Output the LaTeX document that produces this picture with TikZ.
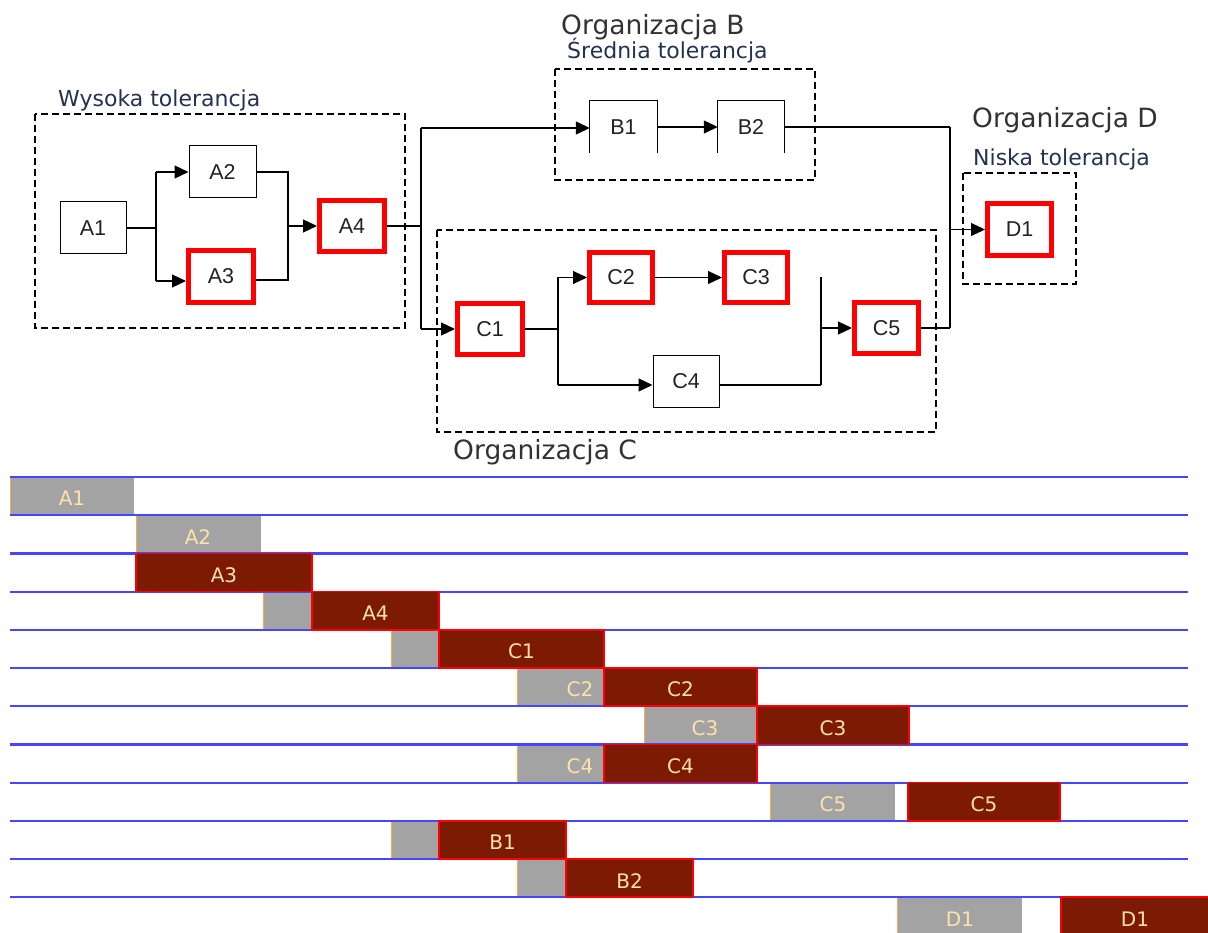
\documentclass[tikz,border=0pt]{standalone}
\usepackage{fontspec}
\setmainfont{Liberation Sans}
\newfontfamily\djv{DejaVu Sans}
\usetikzlibrary{arrows.meta}
\definecolor{ganttgray}{RGB}{163,163,163}
\definecolor{ganttred}{RGB}{125,26,4}
\definecolor{ganttline}{RGB}{70,70,255}
\definecolor{glabc}{RGB}{255,226,170}
\definecolor{tolc}{RGB}{35,50,80}
\definecolor{orgc}{RGB}{50,50,50}
\definecolor{edgeor}{RGB}{255,170,70}
\definecolor{taskc}{RGB}{34,34,34}
\tikzset{
  task/.style={draw=black, line width=1pt, minimum width=66pt, minimum height=52pt, inner sep=0pt, text=taskc, font=\fontsize{21.5}{21.5}\selectfont},
  crit/.style={task, draw=red, line width=5pt},
  openbox/.style={minimum width=66pt, minimum height=52pt, inner sep=0pt, text=taskc, font=\fontsize{21.5}{21.5}\selectfont},
  grp/.style={draw=black, line width=1.2pt, dash pattern=on 7pt off 4pt},
  conn/.style={draw=black, line width=1.2pt},
  arr/.style={conn, -{Triangle[length=14pt,width=13pt]}},
  tol/.style={font=\djv\fontsize{22}{22}\selectfont, text=tolc, inner sep=0pt, anchor=base west},
  org/.style={font=\djv\fontsize{26.5}{26.5}\selectfont, text=orgc, inner sep=0pt, anchor=base west},
  glab/.style={font=\djv\fontsize{20}{20}\selectfont, text=glabc, inner sep=0pt},
  blueline/.style={draw=ganttline, line width=2.2pt},
  redbar/.style={fill=ganttred, draw=red, line width=1.5pt},
}
\newcommand\ganttgray[5]{%
  \fill[ganttgray] (#2,{477+38.2*#1}) rectangle (#3,{515.2+38.2*#1});
  \draw[edgeor, line width=1pt] (#2,{477+38.2*#1}) -- (#2,{515.2+38.2*#1});
  \node[glab] (gg#1) at (#5,{498.6+38.2*#1}) {#4};
}
\newcommand\ganttred[4]{%
  \draw[redbar] (#2,{477+38.2*#1}) rectangle (#3,{515.2+38.2*#1});
  \node[glab] (gr#1) at ({(#2+#3)/2},{498.6+38.2*#1}) {#4};
}
\begin{document}
\begin{tikzpicture}[x=1pt,y=-1pt]
\useasboundingbox (0,0) rectangle (1208,933);

% ---------- group boxes ----------
\draw[grp] (35,114) rectangle (405,328);
\draw[grp] (555,69) rectangle (815,180);
\draw[grp] (437,230) rectangle (936,432);
\draw[grp] (963,173) rectangle (1076,284);

% ---------- labels ----------
\node[tol] (tolA) at (58,107) {Wysoka tolerancja};
\node[org] (orgB) at (561,35) {Organizacja B};
\node[tol] (tolB) at (567,59) {Średnia tolerancja};
\node[org] (orgD) at (972,128) {Organizacja D};
\node[tol] (tolD) at (973,166) {Niska tolerancja};
\node[org] (orgC) at (453,459) {Organizacja C};

% ---------- tasks ----------
\node[task] (A1) at (93,228) {A1};
\node[task, minimum width=67pt] (A2) at (222.5,172) {A2};
\node[crit, minimum width=65pt, minimum height=52pt] (A3) at (221,276.5) {A3};
\node[crit, minimum width=65pt, minimum height=51pt] (A4) at (352,226) {A4};

\node[openbox, minimum width=67pt] (B1) at (623.5,127) {B1};
\node[openbox] (B2) at (751,127) {B2};
\draw[conn] (B1.south west) -- (B1.north west) -- (B1.north east) -- (B1.south east);
\draw[conn] (B2.south west) -- (B2.north west) -- (B2.north east) -- (B2.south east);

\node[crit, minimum width=65pt, minimum height=51pt] (C1) at (490,329) {C1};
\node[crit, minimum width=63pt, minimum height=50pt] (C2) at (621,277.5) {C2};
\node[crit, minimum width=63pt, minimum height=50pt] (C3) at (756,277.5) {C3};
\node[task, minimum width=66pt, minimum height=51pt] (C4) at (686,381.5) {C4};
\node[crit, minimum width=64pt, minimum height=51pt] (C5) at (886.5,328) {C5};
\node[crit, minimum width=64pt, minimum height=52pt] (D1) at (1019.5,229.5) {D1};

% ---------- connectors A ----------
\coordinate (jA1) at (156,228);
\coordinate (jA1t) at (156,172);
\coordinate (jA1b) at (156,281);
\draw[conn] (A1.east) -- (jA1);
\draw[conn] (jA1t) -- (jA1b);
\draw[arr] (jA1t) -- (A2.west);
\draw[arr] (jA1b) -- (jA1b -| A3.west);

\coordinate (jA2t) at (288,172);
\coordinate (jA2b) at (288,280);
\coordinate (jA2m) at (288,226);
\draw[conn] (A2.east) -- (jA2t) -- (jA2b) -- (jA2b -| A3.east);
\draw[arr] (jA2m) -- (A4.west);

% ---------- fork after A4 ----------
\coordinate (fork) at (421,226);
\coordinate (forkt) at (421,128);
\coordinate (forkb) at (421,329);
\draw[conn] (A4.east) -- (fork);
\draw[conn] (forkt) -- (forkb);
\draw[arr] (forkt) -- (forkt -| B1.west);
\draw[arr] (forkb) -- (C1.west);

% ---------- B chain ----------
\draw[arr] (B1.east) -- (B2.west);
\coordinate (jDt) at (950,127);
\draw[conn] (B2.east) -- (jDt);

% ---------- C ----------
\coordinate (jC1) at (558,329);
\coordinate (jC1t) at (558,277.5);
\coordinate (jC1b) at (558,385);
\draw[conn] (C1.east) -- (jC1);
\draw[conn] (jC1t) -- (jC1b);
\draw[arr] (jC1t) -- (C2.west);
\draw[arr] (jC1b) -- (jC1b -| C4.west);
\draw[arr] (C2.east) -- (C3.west);

\coordinate (jC5t) at (821,277);
\coordinate (jC5b) at (821,385);
\draw[conn] (jC5t) -- (jC5b);
\draw[conn] (jC5b -| C4.east) -- (jC5b);
\draw[arr] (jC5t |- C5.west) -- (C5.west);

% ---------- join into D ----------
\coordinate (jDb) at (950,328);
\draw[conn] (C5.east) -- (jDb);
\draw[conn] (jDt) -- (jDb);
\draw[arr] (jDt |- D1.west) -- (D1.west);

% ---------- Gantt ----------
\ganttgray{0}{10}{134}{A1}{72}
\ganttgray{1}{136}{261}{A2}{198}
\ganttgray{3}{263}{312}{}{288}
\ganttgray{4}{391}{439}{}{415}
\ganttgray{5}{517}{604}{C2}{580}
\ganttgray{6}{644}{757}{C3}{705}
\ganttgray{7}{517}{604}{C4}{580}
\ganttgray{8}{770}{895}{C5}{833}
\ganttgray{9}{391}{439}{}{415}
\ganttgray{10}{517}{566}{}{541}
\ganttgray{11}{897}{1022}{D1}{960}

\foreach \k in {0,...,11}
  \draw[blueline] (10,{477+38.2*\k}) -- (1188,{477+38.2*\k});

\ganttred{2}{136}{312}{A3}
\ganttred{3}{312}{439}{A4}
\ganttred{4}{439}{604}{C1}
\ganttred{5}{604}{757}{C2}
\ganttred{6}{757}{909}{C3}
\ganttred{7}{604}{757}{C4}
\ganttred{8}{908}{1060}{C5}
\ganttred{9}{439}{566}{B1}
\ganttred{10}{566}{693}{B2}
\draw[redbar] (1061,{477+38.2*11}) rectangle (1212,940);
\node[glab] (gr11) at (1135,{498.6+38.2*11}) {D1};
\end{tikzpicture}
\end{document}
